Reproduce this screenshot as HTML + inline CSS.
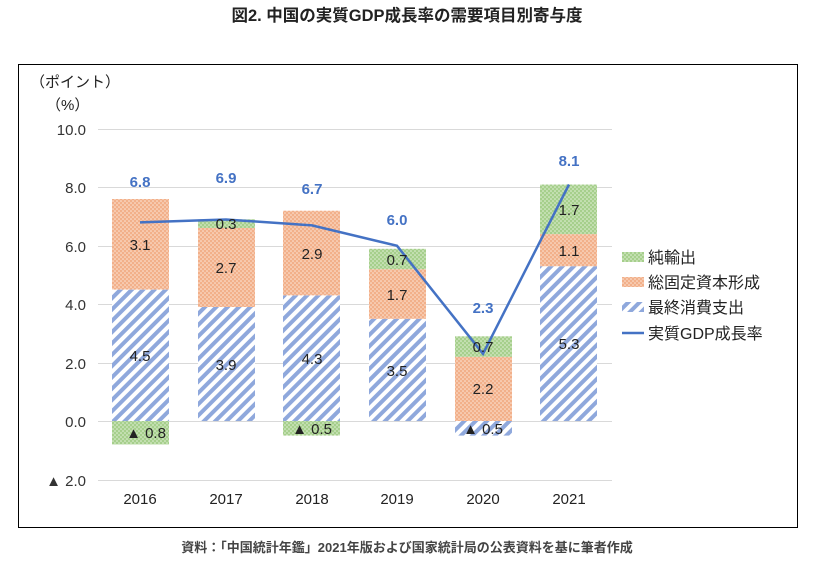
<!DOCTYPE html>
<html><head><meta charset="utf-8"><style>body{margin:0;background:#fff}svg{display:block}</style></head><body>
<svg width="814" height="564" xmlns="http://www.w3.org/2000/svg" font-family="Liberation Sans, Noto Sans CJK JP, sans-serif">
<defs>
<pattern id="or" width="4" height="4" patternUnits="userSpaceOnUse"><rect width="4" height="4" fill="#f2b08a"/><circle cx="1" cy="1" r="0.8" fill="#fde6d8"/><circle cx="3" cy="3" r="0.8" fill="#fde6d8"/></pattern>
<pattern id="gr" width="4" height="4" patternUnits="userSpaceOnUse"><rect width="4" height="4" fill="#a6cf8c"/><circle cx="1" cy="1" r="0.8" fill="#e4f1da"/><circle cx="3" cy="3" r="0.8" fill="#e4f1da"/></pattern>
<pattern id="bl" width="8" height="8" patternUnits="userSpaceOnUse" patternTransform="rotate(45)"><rect width="8" height="8" fill="#fff"/><rect width="4" height="8" fill="#8fa8dc"/></pattern>
</defs>
<text x="407" y="21" text-anchor="middle" font-size="16.5" font-weight="bold" fill="#222">図2. 中国の実質GDP成長率の需要項目別寄与度</text>
<rect x="18.5" y="64.5" width="779" height="463" fill="none" stroke="#000" stroke-width="1"/>
<text x="30" y="87" font-size="15" fill="#222">（ポイント）</text>
<text x="46" y="110" font-size="15" fill="#222">（%）</text>
<g stroke="#d9d9d9" stroke-width="1">
<line x1="98" y1="129.5" x2="612" y2="129.5"/><line x1="98" y1="187.5" x2="612" y2="187.5"/><line x1="98" y1="246.5" x2="612" y2="246.5"/><line x1="98" y1="304.5" x2="612" y2="304.5"/><line x1="98" y1="363.5" x2="612" y2="363.5"/><line x1="98" y1="421.5" x2="612" y2="421.5"/><line x1="98" y1="480.5" x2="612" y2="480.5"/>
</g>
<g font-size="15" fill="#333" text-anchor="end">
<text x="86" y="135">10.0</text><text x="86" y="193">8.0</text><text x="86" y="252">6.0</text><text x="86" y="310">4.0</text><text x="86" y="369">2.0</text><text x="86" y="427">0.0</text><text x="86" y="486">▲ 2.0</text>
</g>
<g>
<rect x="112" y="289.6" width="57" height="131.4" fill="url(#bl)"/>
<rect x="112" y="199" width="57" height="90.6" fill="url(#or)"/>
<rect x="112" y="421" width="57" height="23.4" fill="url(#gr)"/>
<rect x="198" y="307" width="57" height="114" fill="url(#bl)"/>
<rect x="198" y="228" width="57" height="79" fill="url(#or)"/>
<rect x="198" y="219.3" width="57" height="8.7" fill="url(#gr)"/>
<rect x="283" y="295.4" width="57" height="125.6" fill="url(#bl)"/>
<rect x="283" y="210.7" width="57" height="84.7" fill="url(#or)"/>
<rect x="283" y="421" width="57" height="14.6" fill="url(#gr)"/>
<rect x="369" y="318.8" width="57" height="102.2" fill="url(#bl)"/>
<rect x="369" y="269.2" width="57" height="49.6" fill="url(#or)"/>
<rect x="369" y="248.8" width="57" height="20.4" fill="url(#gr)"/>
<rect x="455" y="356.8" width="57" height="64.2" fill="url(#or)"/>
<rect x="455" y="336.3" width="57" height="20.5" fill="url(#gr)"/>
<rect x="455" y="421" width="57" height="14.6" fill="url(#bl)"/>
<rect x="540" y="266.2" width="57" height="154.8" fill="url(#bl)"/>
<rect x="540" y="234.1" width="57" height="32.1" fill="url(#or)"/>
<rect x="540" y="184.5" width="57" height="49.6" fill="url(#gr)"/>
</g>
<polyline points="140,222.4 226,219.5 312,225.4 397,245.8 483,353.8 569,184.5" fill="none" stroke="#4472c4" stroke-width="2.5"/>
<g font-size="15" fill="#222" text-anchor="middle">
<text x="140" y="361">4.5</text><text x="140" y="250">3.1</text><text x="146" y="438">▲ 0.8</text>
<text x="226" y="370">3.9</text><text x="226" y="273">2.7</text><text x="226" y="229">0.3</text>
<text x="312" y="364">4.3</text><text x="312" y="259">2.9</text><text x="312" y="434">▲ 0.5</text>
<text x="397" y="376">3.5</text><text x="397" y="300">1.7</text><text x="397" y="265">0.7</text>
<text x="483" y="394">2.2</text><text x="483" y="352">0.7</text><text x="483" y="434">▲ 0.5</text>
<text x="569" y="349">5.3</text><text x="569" y="256">1.1</text><text x="569" y="215">1.7</text>
</g>
<g font-size="15" font-weight="bold" fill="#4472c4" text-anchor="middle">
<text x="140" y="187">6.8</text><text x="226" y="183">6.9</text><text x="312" y="194">6.7</text><text x="397" y="225">6.0</text><text x="483" y="313">2.3</text><text x="569" y="166">8.1</text>
</g>
<g font-size="15" fill="#222" text-anchor="middle">
<text x="140" y="504">2016</text><text x="226" y="504">2017</text><text x="312" y="504">2018</text><text x="397" y="504">2019</text><text x="483" y="504">2020</text><text x="569" y="504">2021</text>
</g>
<g font-size="16" fill="#222">
<rect x="622" y="252" width="22" height="10" fill="url(#gr)"/><text x="648" y="263">純輸出</text>
<rect x="622" y="277" width="22" height="10" fill="url(#or)"/><text x="648" y="288">総固定資本形成</text>
<rect x="622" y="302" width="22" height="10" fill="url(#bl)"/><text x="648" y="313">最終消費支出</text>
<line x1="622" y1="333" x2="644" y2="333" stroke="#4472c4" stroke-width="2.5"/><text x="648" y="339">実質GDP成長率</text>
</g>
<text x="407" y="552" text-anchor="middle" font-size="13" font-weight="bold" fill="#444">資料：「中国統計年鑑」2021年版および国家統計局の公表資料を基に筆者作成</text>
</svg>
</body></html>
